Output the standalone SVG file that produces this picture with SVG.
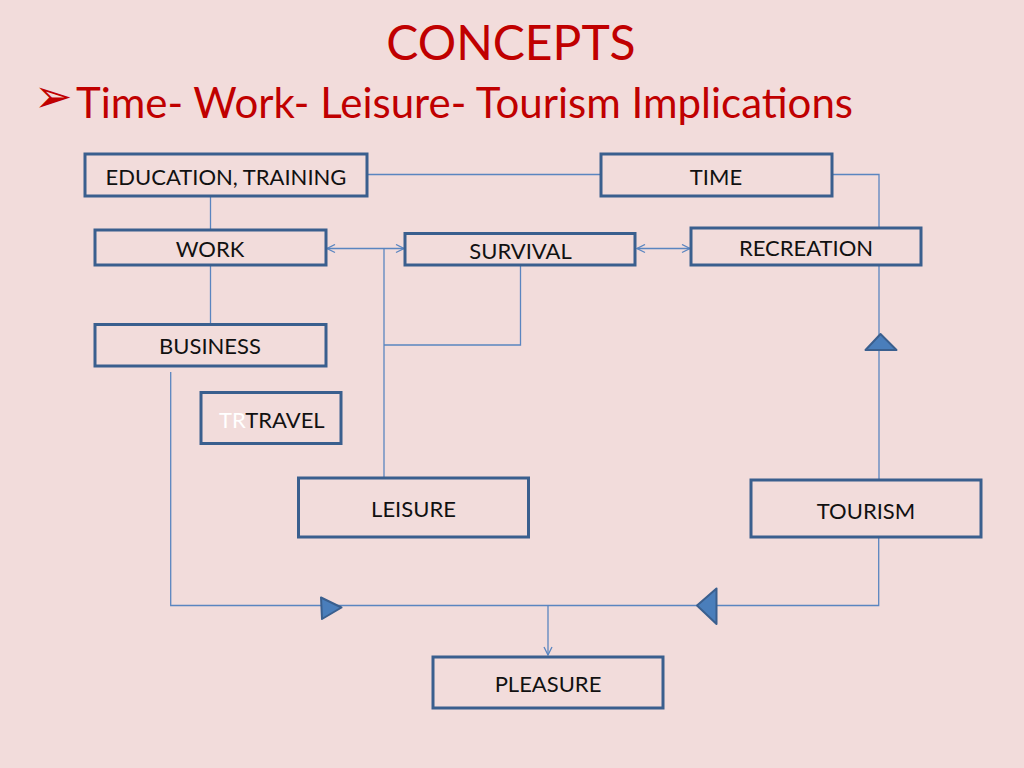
<svg xmlns="http://www.w3.org/2000/svg" width="1024" height="768" viewBox="0 0 1024 768">
<style>
.bg{fill:#f2dcdb}
.box{fill:none;stroke:#3a5f8e;stroke-width:3}
.lbl{font-family:Lato,"Open Sans","Liberation Sans",sans-serif;font-size:22px;fill:#111;text-anchor:middle}
.start{text-anchor:start}
.con{fill:none;stroke:#5a85c0;stroke-width:1.3}
.tri{fill:#4a7ebb;stroke:#3a5f8e;stroke-width:2;stroke-linejoin:round}
.red{font-family:Lato,"Open Sans","Liberation Sans",sans-serif;fill:#c00000}
</style>
<defs>
<marker id="open" viewBox="0 0 10 10" refX="9" refY="5" markerWidth="10" markerHeight="10" markerUnits="userSpaceOnUse" orient="auto-start-reverse">
<path d="M1,1 L9,5 L1,9" fill="none" stroke="#5a85c0" stroke-width="1.3"/>
</marker>
</defs>
<rect class="bg" x="0" y="0" width="1024" height="768"/>
<text class="red" x="511" y="60" font-size="48" text-anchor="middle">CONCEPTS</text>
<text class="red" x="34" y="112" font-family="DejaVu Sans,sans-serif" font-size="46">➢</text>
<text class="red" x="76" y="118" font-size="42">Time- Work- Leisure- Tourism Implications</text>

<g id="connectors">
<polyline class="con" points="367,174.5 600,174.5"/>
<polyline class="con" points="833,174.5 879,174.5 879,227"/>
<line class="con" x1="879" y1="265" x2="879" y2="479"/>
<line class="con" x1="210.5" y1="196" x2="210.5" y2="229"/>
<line class="con" x1="210.5" y1="265" x2="210.5" y2="324"/>
<line class="con" x1="327" y1="248.5" x2="404" y2="248.5" marker-start="url(#open)" marker-end="url(#open)"/>
<line class="con" x1="637" y1="248.5" x2="690" y2="248.5" marker-start="url(#open)" marker-end="url(#open)"/>
<polyline class="con" points="384,248.5 384,477"/>
<polyline class="con" points="384,345 520.5,345 520.5,265"/>
<polyline class="con" points="170.7,372 170.7,605.5 878.7,605.5 878.7,538"/>
<line class="con" x1="548" y1="605.5" x2="548" y2="655" marker-end="url(#open)"/>
<polygon class="tri" points="865.5,350 880.5,334 896.5,350"/>
<polygon class="tri" points="321,597.5 341.5,607.5 322,619"/>
<polygon class="tri" points="697,605.5 716.5,588.5 716.5,624"/>
</g>

<g id="education"><rect class="box" x="85" y="154" width="282" height="42"/><text class="lbl" x="226" y="185">EDUCATION, TRAINING</text></g>
<g id="time"><rect class="box" x="601" y="154" width="231" height="42"/><text class="lbl" x="716" y="185">TIME</text></g>
<g id="work"><rect class="box" x="95" y="230" width="231" height="35"/><text class="lbl" x="210" y="256.5">WORK</text></g>
<g id="survival"><rect class="box" x="405" y="233.5" width="230" height="31.5"/><text class="lbl" x="520.5" y="259">SURVIVAL</text></g>
<g id="recreation"><rect class="box" x="691" y="228" width="230" height="37"/><text class="lbl" x="806" y="255.5">RECREATION</text></g>
<g id="business"><rect class="box" x="95" y="324.5" width="231" height="41.5"/><text class="lbl" x="210" y="353.5">BUSINESS</text></g>
<g id="travel"><rect class="box" x="201" y="392.5" width="140" height="51"/><text class="lbl start" x="219" y="427.5"><tspan fill="#ffffff">TR</tspan>TRAVEL</text></g>
<g id="leisure"><rect class="box" x="298.5" y="478" width="230" height="59"/><text class="lbl" x="413.5" y="516.5">LEISURE</text></g>
<g id="tourism"><rect class="box" x="751" y="480" width="230" height="57"/><text class="lbl" x="866" y="519">TOURISM</text></g>
<g id="pleasure"><rect class="box" x="433" y="657" width="230" height="51"/><text class="lbl" x="548" y="691.5">PLEASURE</text></g>
</svg>
